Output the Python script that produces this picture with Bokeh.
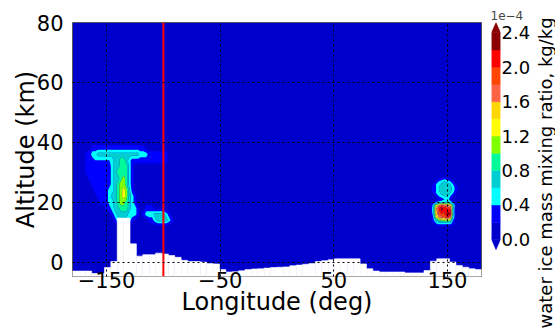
import numpy as np
from bokeh.plotting import figure
from bokeh.layouts import gridplot
from bokeh.models import Range1d, FixedTicker, Span, Title
from bokeh.embed import file_html
from bokeh.resources import INLINE

# ---------------- data ----------------
x_ticks = [-150, -50, 50, 150]
y_ticks = [0, 20, 40, 60, 80]
cbar_ticks = [0.0, 0.4, 0.8, 1.2, 1.6, 2.0, 2.4]
levels = [0.0, 0.2, 0.4, 0.6, 0.8, 1.0, 1.2, 1.4, 1.6, 1.8, 2.0, 2.2, 2.4]
bin_colors = ["#0000cd", "#0000ff", "#00ffff", "#00ced1", "#00fa9a", "#7fff00",
              "#ffff00", "#ffd700", "#ff6347", "#ff4500", "#ff0000", "#8b0000"]
over_color = "#8b0000"
red_line_lon = -100
cbar_label = "water ice mass mixing ratio, kg/kg"
cbar_offset_text = "1e\u22124"

# model topography (64 longitude cells of 5.625 deg), km
topo_lon = np.linspace(-177.1875, 177.1875, 64)
topo_alt = [-3.0, -3.0, -3.0, -3.8, -3.8, -1.8, 0.2, 14.7, 14.7, 6.1,
            2.0, 2.5, 2.5, 3.0, 2.7, 2.2, 1.6, 0.6, 0.2, 0.2,
            0.0, -0.5, -0.6, -2.5, -3.3, -3.2, -2.9, -2.5, -2.3, -2.2,
            -2.0, -1.8, -1.7, -1.6, -1.2, -1.0, -0.7, -0.5, 0.2, 0.5,
            0.8, 1.1, 1.1, 1.1, 1.1, -0.6, -2.2, -3.0, -3.3, -3.3,
            -3.3, -3.3, -3.6, -3.6, -3.6, -2.8, 0.3, 1.1, 1.1, 0.0,
            -1.1, -1.7, -2.2, -2.5]

# ice mass mixing ratio readings (1e-4 kg/kg in tenths, one base-36 digit per point)
# western cloud: lon -170..-90 step 2.5, rows alt 42 (top) .. 10 (bottom) step 2
west_lon = np.arange(-170.0, -89.0, 2.5)
west_alt = np.arange(42.0, 9.0, -2.0)
west_rows = [
    "1" * 33,
    "1" * 33,
    "11133" + "3" * 17 + "1" * 11,
    "133" + "55" + "7" * 15 + "55" + "5" + "3" * 7 + "111",
    "1" + "333" + "444444" + "5779975" + "3" * 13 + "111",
    "1" + "3" * 9 + "5779995" + "3" + "1" * 15,
    "1" + "3" * 9 + "5799995" + "3" + "1" * 15,
    "11" + "3" * 8 + "5779b95" + "3" + "1" * 15,
    "111" + "3" * 7 + "579bb95" + "3" + "1" * 15,
    "1111" + "3" * 5 + "5579bdb73" + "1" * 15,
    "11111" + "3" * 4 + "5779bdb753" + "1" * 14,
    "111111" + "3" * 3 + "5579bb9753" + "1" * 14,
    "1" * 8 + "335779997553" + "11" + "333" + "1" * 8,
    "1" * 10 + "3577775553" + "1" + "3555777753" + "11",
    "1" * 11 + "3" + "55555" + "3" + "11111" + "335777753" + "1",
    "1" * 33,
    "1" * 33,
]
# eastern cloud: lon 132.5..160 step 2.5, rows alt 29 (top) .. 11 (bottom) step 1
east_lon = np.arange(132.5, 161.0, 2.5)
east_alt = np.arange(29.0, 10.0, -1.0)
east_rows = [
    "111111111111",
    "111122321111",
    "111245654211",
    "112457776421",
    "113468887531",
    "113468887531",
    "112457776421",
    "111245664211",
    "111123453111",
    "112455575311",
    "115cgihgf811",
    "116fknlkj711",
    "116fjmkml611",
    "115eikknm711",
    "114cghikh611",
    "1137abbcb411",
    "112455555311",
    "111122222111",
    "111111111111",
]


def decode(rows):
    return np.array([[int(c, 36) / 10.0 for c in r] for r in rows])


FONT = "DejaVu Sans"
TOP, BOTTOM = 22, 56   # frame borders asked of the three panels

# ---------------- main panel ----------------
p = figure(width=487, height=332, x_range=Range1d(-180, 180), y_range=Range1d(-4.8, 80),
           output_backend="svg", toolbar_location=None,
           min_border_left=72, min_border_right=6, min_border_top=TOP, min_border_bottom=BOTTOM)
p.background_fill_color = bin_colors[0]
p.border_fill_color = "white"
p.outline_line_color = "#555555"
p.outline_line_width = 1

contour_levels = levels[1:] + [10.0]
fill_cols = bin_colors[1:] + [over_color]
for lon, alt, rows in ((west_lon, west_alt, west_rows), (east_lon, east_alt, east_rows)):
    z = decode(rows)[::-1]
    p.contour(lon, alt[::-1], z, levels=contour_levels, fill_color=fill_cols)

p.vbar(x=topo_lon, width=5.625, bottom=-10, top=topo_alt,
       fill_color="white", line_color="white", line_width=0.6)

p.add_layout(Span(location=red_line_lon, dimension="height", line_color="red", line_width=2))

p.xaxis.ticker = FixedTicker(ticks=x_ticks)
p.yaxis.ticker = FixedTicker(ticks=y_ticks)
p.xaxis.major_label_overrides = {t: (("\u2212" + str(abs(t))) if t < 0 else str(t)) for t in x_ticks}
p.xaxis.axis_label = "Longitude (deg)"
p.yaxis.axis_label = "Altitude (km)"
for ax in (p.xaxis[0], p.yaxis[0]):
    ax.axis_line_color = None
    ax.major_tick_line_color = None
    ax.minor_tick_line_color = None
    ax.major_tick_out = 0
    ax.major_tick_in = 0
    ax.minor_tick_out = 0
    ax.major_label_text_font = FONT
    ax.major_label_text_font_size = "21px"
    ax.major_label_text_color = "black"
    ax.axis_label_text_font = FONT
    ax.axis_label_text_font_size = "24px"
    ax.axis_label_text_font_style = "normal"
    ax.axis_label_text_color = "black"
p.xaxis.major_label_standoff = -5
p.xaxis.axis_label_standoff = -3
p.yaxis.major_label_standoff = 9
p.yaxis.axis_label_standoff = -6

p.grid.grid_line_color = "black"
p.grid.grid_line_dash = "2 3"
p.grid.grid_line_width = 1
p.grid.grid_line_alpha = 1.0
p.xgrid.level = "overlay"
p.ygrid.level = "overlay"

# ---------------- colour bar ----------------
# the bar's frame ends up spanning screen y 22..306 in this layout; map the
# 0.0 .. 2.4 interior onto screen y 264.5 .. 33.5 (same height as the main axes)
ext = 0.05 * (levels[-1] - levels[0])
cb_frame_top, cb_frame_bot = 22.0, 306.0
bar_top_px, bar_bot_px = 33.5, 264.5
px_per = (bar_bot_px - bar_top_px) / (levels[-1] - levels[0])
cb_y_hi = levels[-1] + (bar_top_px - cb_frame_top) / px_per
cb_y_lo = levels[0] - (cb_frame_bot - bar_bot_px) / px_per

cb = figure(width=46, height=332, x_range=Range1d(0, 1),
            y_range=Range1d(cb_y_lo, cb_y_hi),
            output_backend="svg", toolbar_location=None,
            x_axis_location=None, y_axis_location="right", title=cbar_offset_text,
            min_border_left=4, min_border_right=31, min_border_top=TOP, min_border_bottom=BOTTOM)
cb.outline_line_color = None
cb.grid.visible = False
cb.background_fill_color = "white"
cb.border_fill_color = "white"
cb.title.text_font = FONT
cb.title.text_font_size = "12px"
cb.title.text_font_style = "normal"
cb.title.align = "left"
cb.title.offset = -1
cb.title.standoff = 6

cb.quad(left=0, right=1, bottom=levels[:-1], top=levels[1:],
        fill_color=bin_colors, line_color=bin_colors, line_width=0.5)
cb.patch([0, 1, 0.5], [levels[-1], levels[-1], levels[-1] + ext],
         fill_color=over_color, line_color=over_color, line_width=0.5)
cb.patch([0, 1, 0.5], [levels[0], levels[0], levels[0] - ext],
         fill_color=bin_colors[0], line_color=bin_colors[0], line_width=0.5)

cax = cb.yaxis[0]
cax.ticker = FixedTicker(ticks=cbar_ticks)
cax.major_label_overrides = {t: f"{t:.1f}" for t in cbar_ticks}
cax.axis_line_color = None
cax.major_tick_line_color = None
cax.minor_tick_line_color = None
cax.major_tick_out = 0
cax.major_tick_in = 0
cax.minor_tick_out = 0
cax.major_label_standoff = 1
cax.major_label_text_font = FONT
cax.major_label_text_font_size = "18px"
cax.major_label_text_color = "black"

# rotated colour-bar label, carried by a slim companion plot (title on its left side)
lab = figure(width=22, height=332, x_range=Range1d(0, 1), y_range=Range1d(0, 1),
             output_backend="svg", toolbar_location=None,
             x_axis_location=None, y_axis_location=None,
             min_border_left=0, min_border_right=0, min_border_top=TOP, min_border_bottom=BOTTOM)
lab.outline_line_color = None
lab.grid.visible = False
lab.background_fill_color = "white"
lab.border_fill_color = "white"
lab.add_layout(Title(text=cbar_label, align="left", offset=-52, standoff=0,
                     text_font=FONT, text_font_size="18px", text_font_style="normal",
                     text_color="black"), "left")

layout = gridplot([[p, cb, lab]], toolbar_location=None, merge_tools=False)
open("out.html", "w").write(file_html(layout, INLINE))
